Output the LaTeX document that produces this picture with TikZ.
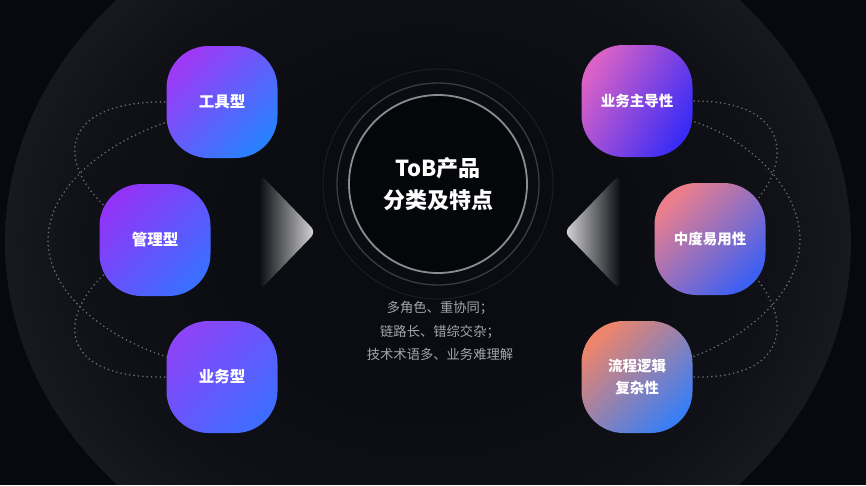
\documentclass[tikz,border=0pt]{standalone}
\usepackage{fontspec}
\newfontfamily\cjk{Noto Sans CJK SC}
\definecolor{bg}{HTML}{07090E}
\definecolor{ellin}{HTML}{0A0C11}
\definecolor{ellmidb}{HTML}{0F1116}
\definecolor{ellout}{HTML}{17191E}
\definecolor{ellmid}{HTML}{0D0F14}
\definecolor{dotc}{HTML}{6A6D75}
\definecolor{corefill}{HTML}{05060A}
\definecolor{ringA}{HTML}{8A8C91}
\definecolor{ringB}{HTML}{3A3C41}
\definecolor{ringC}{HTML}{1C1E23}
\definecolor{desctext}{HTML}{A4A6AC}
\definecolor{arrowc}{HTML}{DCDCDE}
\definecolor{gA1}{HTML}{9D3AF6}\definecolor{gA2}{HTML}{2A80FF}
\definecolor{gB1}{HTML}{9234F8}\definecolor{gB2}{HTML}{3C6EFF}
\definecolor{gC1}{HTML}{8C44F8}\definecolor{gC2}{HTML}{3F6CFF}
\definecolor{gD1}{HTML}{DA62C6}\definecolor{gD2}{HTML}{3A2CF6}
\definecolor{gE1}{HTML}{EC7E8C}\definecolor{gE2}{HTML}{3E60F2}
\definecolor{gF1}{HTML}{EC856C}\definecolor{gF2}{HTML}{3A7EF4}
\pgfdeclareradialshading{bigell}{\pgfpoint{0bp}{0bp}}{color(0bp)=(ellin); color(10bp)=(ellin); color(20bp)=(ellmidb); color(25bp)=(ellout); color(50bp)=(ellout)}
\tikzset{
  box/.style={draw=none, minimum width=111pt, minimum height=112pt, rounded corners=42pt,
    text=white, align=center, inner sep=0pt, shading angle=45},
  lbox/.style={box, font=\cjk\bfseries\fontsize{15.5}{22}\selectfont},
  rbox/.style={box, font=\cjk\bfseries\fontsize{14.5}{22}\selectfont},
  dotline/.style={dotc, line width=1.8pt, line cap=round, dash pattern=on 0pt off 4.4pt},
}
\begin{document}
\begin{tikzpicture}[x=1pt,y=-1pt]
\useasboundingbox (0,0) rectangle (866,485);
\fill[bg] (0,0) rectangle (866,485);
\begin{scope}
\clip (0,0) rectangle (866,484);
\fill[shading=bigell] (428,242) ellipse [x radius=423, y radius=358];
\end{scope}

% faint outer ring and rings around the core
\draw[ringC, line width=1pt] (438,184) circle [radius=115];
\draw[ringB, line width=1.3pt] (438,184) circle [radius=101];

% gradient pointers
\shade[rounded corners=7, left color=ellmid, right color=arrowc] (260,174) -- (316,232) -- (260,290) -- cycle;
\shade[rounded corners=7, left color=arrowc, right color=ellmid] (620,174) -- (564,232) -- (620,290) -- cycle;

\node[circle, minimum size=178pt, fill=corefill, draw=ringA, line width=1.8pt,
  text=white, align=center, font=\cjk\bfseries\fontsize{22}{32}\selectfont] (core) at (438,184) {ToB产品\\分类及特点};

\node[text=desctext, align=center, font=\cjk\fontsize{13.3}{23.5}\selectfont] (desc) at (440,331)
  {多角色、重协同；\\链路长、错综交杂；\\技术术语多、业务难理解};

% dotted connectors (drawn before boxes so the boxes cover them)
\coordinate (lmid) at (48,240);
\coordinate (rmid) at (800,240);
\coordinate (t1c) at (222,102);
\coordinate (m1c) at (155,240);
\coordinate (b1c) at (222,377);
\coordinate (r1c) at (637,101);
\coordinate (r2c) at (710,239);
\coordinate (r3c) at (637,377);

\draw[dotline] (t1c) -- (167,102) .. controls (36,100) and (56,192) .. (m1c);
\draw[dotline] (b1c) -- (167,377) .. controls (36,380) and (56,288) .. (m1c);
\draw[dotline] (t1c) -- (167,122) .. controls (100,145) and (48,190) .. (lmid)
  .. controls (48,290) and (100,335) .. (167,357) -- (b1c);

\draw[dotline] (r1c) -- (692,101) .. controls (810,100) and (795,190) .. (r2c);
\draw[dotline] (r3c) -- (692,377) .. controls (810,380) and (795,290) .. (r2c);
\draw[dotline] (r1c) -- (692,121) .. controls (752,140) and (800,190) .. (rmid)
  .. controls (800,290) and (752,335) .. (692,357) -- (r3c);

% boxes
\node[lbox, top color=gA1, bottom color=gA2, shading angle=45] (t1) at (t1c) {工具型};
\node[lbox, top color=gB1, bottom color=gB2, shading angle=45] (m1) at (m1c) {管理型};
\node[lbox, top color=gC1, bottom color=gC2, shading angle=45] (b1) at (b1c) {业务型};
\node[rbox, top color=gD1, bottom color=gD2, shading angle=60] (r1) at (r1c) {业务主导性};
\node[rbox, top color=gE1, bottom color=gE2, shading angle=45] (r2) at (r2c) {中度易用性};
\node[rbox, top color=gF1, bottom color=gF2, shading angle=45] (r3) at (r3c) {流程逻辑\\复杂性};
\end{tikzpicture}
\end{document}
